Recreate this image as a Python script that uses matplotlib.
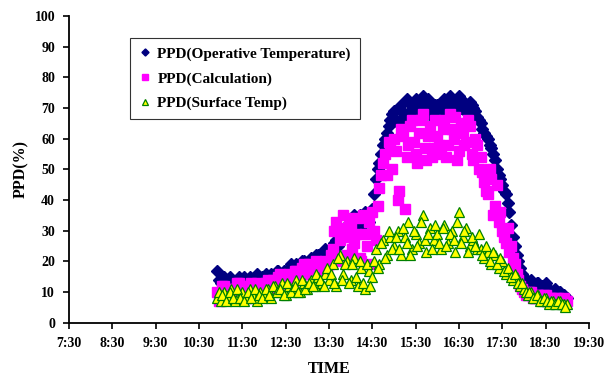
import numpy as np
import matplotlib
matplotlib.use("Agg")
import matplotlib.pyplot as plt

# readings every 5 minutes from 10:55 to 19:00 ("a")
# and the in-between readings from 10:57:30 to 18:57:30 ("b")
start_hour = 10 + 55 / 60.0
step_min = 5

ppd_operative_a = [
    17,
    13, 15, 12, 14, 13, 15, 14, 13, 15, 14, 16, 14,
    15, 14, 16, 15, 17, 16, 15, 18, 17, 19, 18, 20,
    19, 21, 20, 22, 21, 24, 23, 25, 27, 30, 28, 32,
    32, 35, 31, 34, 36, 33, 37, 47, 52, 58, 62, 66,
    69, 65, 71, 68, 72, 67, 73, 70, 74, 68, 72, 69,
    71, 67, 73, 69, 72, 70, 74, 71, 69, 72, 70, 67,
    65, 62, 60, 57, 53, 48, 45, 42, 36, 28, 22, 18,
    15, 13, 14, 12, 13, 12, 13, 11, 10, 9, 10, 9,
    8,
]
ppd_operative_b = [
    14,
    14, 13, 15, 12, 14, 13, 15, 14, 13, 15, 14, 15,
    16, 15, 14, 17, 15, 17, 16, 19, 18, 17, 20, 19,
    20, 19, 22, 21, 23, 22, 24, 26, 25, 29, 31, 30,
    33, 30, 35, 32, 34, 35, 42, 50, 55, 60, 64, 68,
    66, 70, 67, 73, 69, 72, 68, 72, 70, 73, 67, 71,
    68, 72, 70, 74, 68, 73, 70, 72, 68, 71, 69, 66,
    63, 61, 58, 55, 50, 47, 43, 39, 32, 25, 20, 16,
    14, 13, 12, 13, 11, 12, 11, 10, 11, 10, 9, 8,
]

ppd_calc_a = [
    10,
    9, 12, 8, 11, 10, 13, 9, 12, 10, 11, 13, 10,
    12, 14, 11, 13, 15, 12, 14, 16, 13, 17, 15, 19,
    16, 18, 17, 19, 18, 20, 19, 24, 33, 27, 35, 22,
    31, 26, 34, 20, 29, 33, 36, 27, 44, 52, 48, 57,
    60, 40, 63, 37, 58, 66, 55, 62, 68, 53, 64, 57,
    61, 55, 66, 58, 63, 67, 56, 62, 59, 64, 53, 58,
    54, 46, 42, 47, 38, 33, 30, 26, 23, 21, 16, 12,
    10, 9, 10, 8, 9, 8, 9, 8, 7, 8, 7, 8,
    7,
]
ppd_calc_b = [
    7,
    12, 8, 11, 9, 13, 10, 12, 8, 13, 9, 12, 11,
    13, 11, 14, 12, 16, 13, 15, 12, 17, 14, 18, 16,
    19, 16, 20, 17, 19, 18, 22, 30, 20, 31, 28, 34,
    24, 29, 21, 35, 25, 19, 30, 38, 48, 55, 59, 50,
    56, 43, 61, 54, 64, 59, 52, 66, 57, 61, 54, 66,
    58, 63, 54, 68, 60, 53, 65, 58, 66, 55, 60, 50,
    49, 43, 50, 35, 45, 36, 28, 31, 25, 19, 14, 11,
    9, 10, 8, 9, 8, 9, 7, 8, 7, 8, 7, 7,
]

ppd_surface_a = [
    8,
    7, 10, 8, 11, 7, 9, 10, 8, 11, 9, 7, 10,
    9, 11, 8, 12, 10, 13, 9, 12, 11, 14, 10, 13,
    11, 14, 12, 15, 13, 16, 14, 19, 12, 22, 16, 20,
    14, 21, 12, 18, 11, 17, 15, 24, 19, 27, 22, 28,
    25, 30, 22, 28, 33, 24, 29, 26, 35, 23, 31, 27,
    29, 24, 32, 26, 30, 23, 36, 28, 31, 25, 27, 24,
    24, 21, 23, 19, 22, 18, 20, 16, 17, 14, 15, 12,
    11, 9, 10, 8, 9, 7, 8, 6, 7, 6, 7, 6,
    6,
]
ppd_surface_b = [
    10,
    9, 7, 10, 8, 11, 8, 7, 10, 8, 11, 9, 8,
    11, 9, 12, 10, 11, 9, 13, 10, 12, 10, 14, 11,
    13, 12, 16, 14, 12, 18, 16, 13, 21, 14, 19, 13,
    19, 15, 20, 13, 19, 12, 20, 18, 26, 21, 30, 24,
    28, 24, 31, 26, 22, 30, 25, 33, 27, 29, 24, 32,
    26, 31, 25, 29, 27, 33, 26, 30, 23, 28, 25, 29,
    22, 25, 20, 23, 19, 21, 17, 18, 15, 16, 13, 13,
    10, 10, 8, 9, 7, 8, 7, 7, 6, 7, 6, 5,
]

tick_hours = [7.5 + i for i in range(13)]
tick_labels = ["7:30", "8:30", "9:30", "10:30", "11:30", "12:30", "13:30",
               "14:30", "15:30", "16:30", "17:30", "18:30", "19:30"]

t_a = start_hour + np.arange(len(ppd_operative_a)) * step_min / 60.0
t_b = start_hour + (np.arange(len(ppd_operative_b)) + 0.5) * step_min / 60.0
t = np.concatenate([t_a, t_b])

plt.rcParams['font.family'] = ['Liberation Serif', 'DejaVu Serif']
plt.rcParams['font.weight'] = 'bold'

fig = plt.figure(figsize=(6.16, 3.78), dpi=100)
ax = fig.add_axes([0.112, 0.146, 0.844, 0.812])

ax.plot(t, ppd_operative_a + ppd_operative_b, ls='none', marker='D', ms=6,
        mfc='#000080', mec='#000080', label='PPD(Operative Temperature)')
ax.plot(t, ppd_calc_a + ppd_calc_b, ls='none', marker='s', ms=7.5,
        mfc='#FF00FF', mec='#FF00FF', label='PPD(Calculation)')
ax.plot(t, ppd_surface_a + ppd_surface_b, ls='none', marker='^', ms=6.5,
        mfc='#FFFF00', mec='#008000', mew=0.9, label='PPD(Surface Temp)')

ax.set_xlim(7.5, 19.5)
ax.set_ylim(0, 100)
ax.set_xticks(tick_hours)
ax.set_xticklabels(tick_labels)
ax.set_yticks(range(0, 101, 10))
ax.tick_params(axis='both', direction='out', length=4, width=1.2,
               labelsize=10, pad=6)
for lab in ax.get_xticklabels() + ax.get_yticklabels():
    lab.set_fontweight('bold')
ax.spines['top'].set_visible(False)
ax.spines['right'].set_visible(False)
ax.spines['left'].set_linewidth(1.3)
ax.spines['bottom'].set_linewidth(1.3)

ax.set_xlabel('TIME', fontsize=11.5, fontweight='bold', labelpad=8)
ax.set_ylabel('PPD(%)', fontsize=11.5, fontweight='bold', labelpad=4)

leg = ax.legend(loc='upper left', bbox_to_anchor=(0.117, 0.928),
                borderaxespad=0, frameon=True, fancybox=False,
                edgecolor='black', markerscale=0.6,
                handlelength=0.8, handletextpad=0.4, borderpad=0.6,
                labelspacing=0.7, prop={'weight': 'bold', 'size': 11})
leg.get_frame().set_linewidth(0.8)

fig.savefig('out.png', dpi=100)
